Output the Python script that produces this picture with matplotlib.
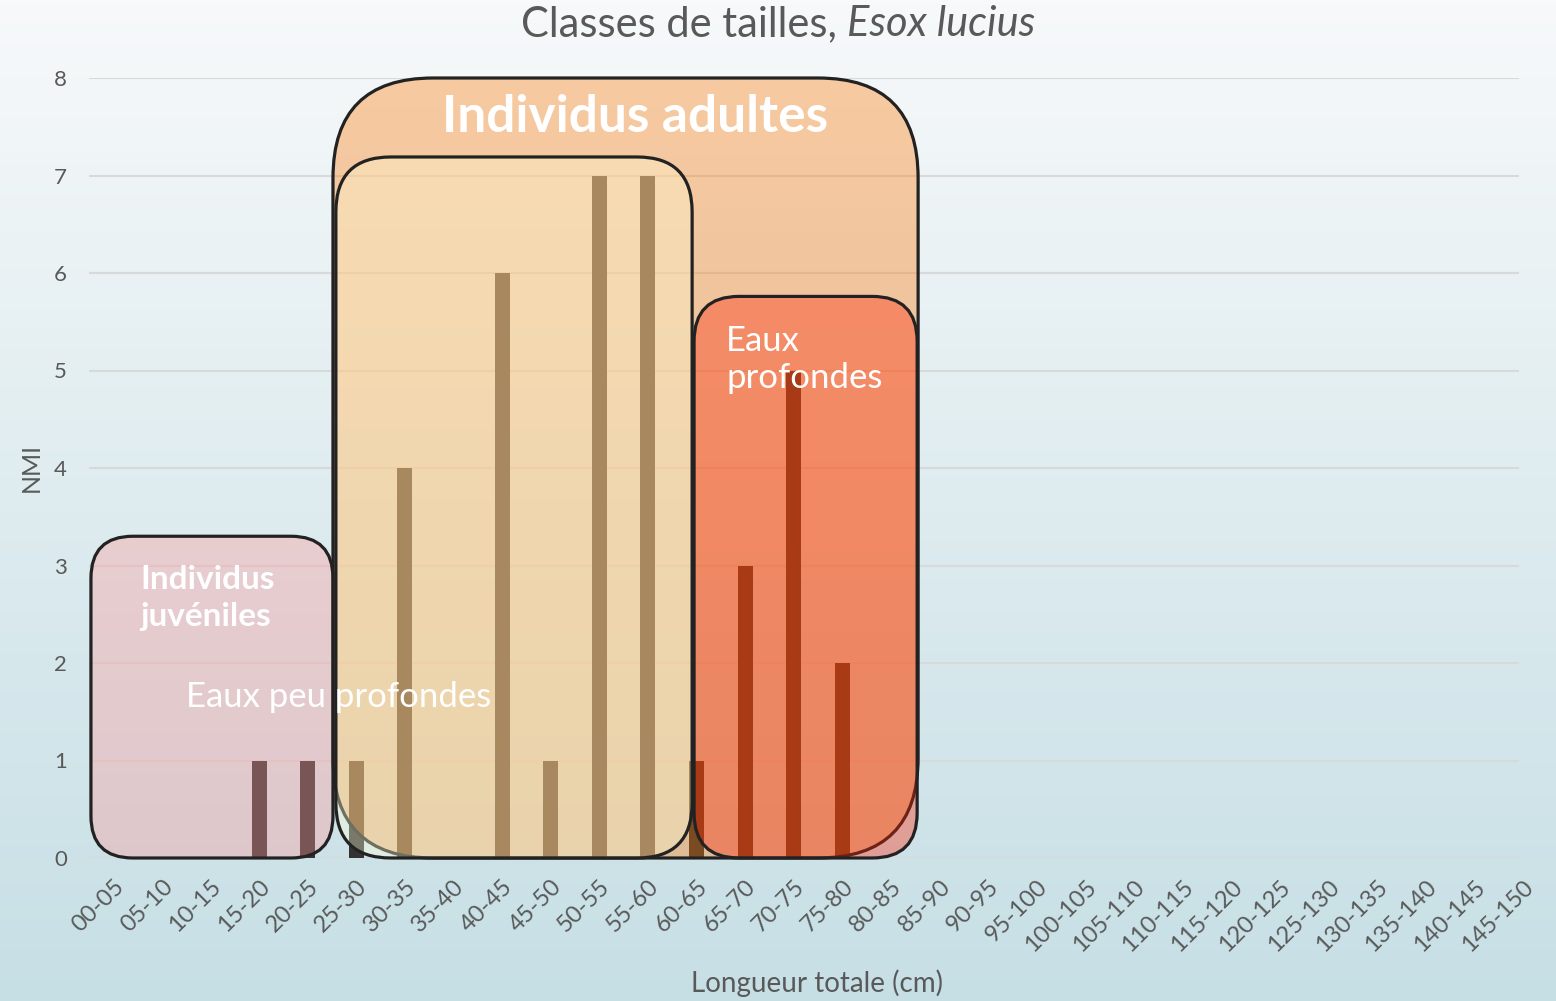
import numpy as np
import matplotlib.pyplot as plt
from matplotlib.patches import FancyBboxPatch

plt.rcParams['font.family'] = ['Lato', 'DejaVu Sans']

# size classes (cm) and number of individuals
classes = ['%02d-%02d' % (a, a + 5) for a in range(0, 150, 5)]
nmi = [0, 0, 0, 1, 1, 1, 4, 0, 6, 1, 7, 7, 1, 3, 5, 2,
       0, 0, 0, 0, 0, 0, 0, 0, 0, 0, 0, 0, 0, 0]

# highlight boxes: (x0, x1, y_top) in class index / NMI units
box_juv = (-0.46, 4.52, 3.30)
box_adult = (4.52, 16.56, 8.0)
box_shallow = (4.58, 11.91, 7.19)
box_deep = (11.95, 16.54, 5.76)

grey = '#595959'
W, H = 1556, 1001

fig = plt.figure(figsize=(W / 100, H / 100), dpi=100)

# background gradient
bg = fig.add_axes([0, 0, 1, 1], zorder=-10)
top = np.array([247, 249, 250]) / 255
bot = np.array([198, 223, 229]) / 255
t = np.linspace(0, 1, 256)[:, None]
grad = top[None, :] * (1 - t) + bot[None, :] * t
bg.imshow(grad[:, None, :], aspect='auto', extent=[0, 1, 0, 1])
bg.axis('off')

ax_l, ax_w, ax_b, ax_h = 89, 1458, 858, 780
ax = fig.add_axes([ax_l / W, 1 - ax_b / H, ax_w / W, ax_h / H])
ax.set_facecolor('none')
x = np.arange(len(classes))
ax.bar(x, nmi, width=0.31, color='#333333', zorder=2)

ax.set_xlim(-0.5, len(classes) - 0.5)
ax.set_ylim(0, 8)
ax.set_yticks(range(0, 9))
ax.set_xticks(x)
ax.set_xticklabels(classes, rotation=45, ha='right', rotation_mode='anchor')
ax.tick_params(axis='both', length=0, labelcolor=grey)
ax.tick_params(axis='x', pad=13, labelsize=17)
ax.tick_params(axis='y', pad=16, labelsize=16)
for yv in range(0, 9):
    ax.axhline(yv, xmin=0, xmax=(1518 - ax_l) / ax_w, color='#d9d9d9',
               lw=1.5, zorder=0)
for s in ax.spines.values():
    s.set_visible(False)
ax.set_ylabel('NMI', fontsize=18, color=grey, va='center')
ax.yaxis.set_label_coords((31 - ax_l) / ax_w, 0.5)
ax.set_xlabel('Longueur totale (cm)', fontsize=20, color=grey, va='center')
ax.xaxis.set_label_coords((817 - ax_l) / ax_w, (ax_b - 983) / ax_h)

# aspect between data units so corners are round in pixels
px_x = ax_w / len(classes)
px_y = ax_h / 8
aspect = px_x / px_y


def add_box(b, color, radius_px, z):
    x0, x1, ytop = b
    r = radius_px / px_x
    style = 'round,pad=0,rounding_size=%f' % r
    ax.add_patch(FancyBboxPatch((x0, 0), x1 - x0, ytop, boxstyle=style,
                                mutation_aspect=aspect, facecolor=color,
                                alpha=0.35, edgecolor='none', zorder=z,
                                clip_on=False))
    ax.add_patch(FancyBboxPatch((x0, 0), x1 - x0, ytop, boxstyle=style,
                                mutation_aspect=aspect, facecolor='none',
                                edgecolor='#222222', lw=2.3, zorder=z + 0.1,
                                clip_on=False))


add_box(box_adult, '#ff7500', 100, 3)
add_box(box_juv, '#ff9797', 42, 4)
add_box(box_shallow, '#ffffd5', 55, 5)
add_box(box_deep, '#ff2100', 45, 6)

ax.text(10.73, 7.6, 'Individus adultes', color='white', fontsize=37,
        fontweight='bold', ha='center', va='center', zorder=10)
ax.text(0.55, 2.67, 'Individus\njuvéniles', color='white', fontsize=24,
        fontweight='bold', ha='left', va='center', zorder=10,
        linespacing=1.33)
ax.text(1.5, 1.65, 'Eaux peu profondes', color='white', fontsize=25,
        ha='left', va='center', zorder=10)
ax.text(12.61, 5.11, 'Eaux\nprofondes', color='white', fontsize=25,
        ha='left', va='center', zorder=10, linespacing=1.2)

# title with italic species name
t1 = fig.text(0, 1 - 24 / H, 'Classes de tailles, ', fontsize=30,
              color=grey, va='center')
t2 = fig.text(0, 1 - 24 / H, 'Esox lucius', fontsize=30, color=grey,
              va='center', style='italic')
r = fig.canvas.get_renderer()
w1 = t1.get_window_extent(r).width
w2 = t2.get_window_extent(r).width
start = 778 - (w1 + w2) / 2
t1.set_x(start / W)
t2.set_x((start + w1) / W)

fig.savefig('out.png', dpi=100)
